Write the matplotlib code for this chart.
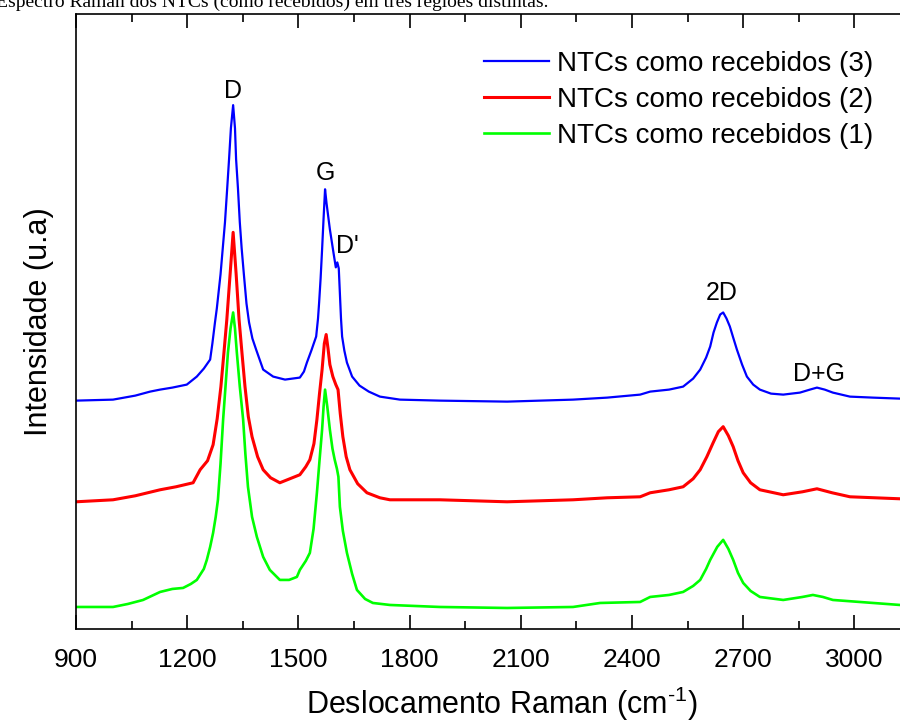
import matplotlib
matplotlib.use("Agg")
import matplotlib.pyplot as plt
from matplotlib.ticker import MultipleLocator

plt.rcParams['font.family'] = ['Liberation Sans', 'DejaVu Sans']
plt.rcParams['axes.unicode_minus'] = False
plt.rcParams['mathtext.fontset'] = 'custom'
plt.rcParams['mathtext.rm'] = 'Liberation Sans'

# Raman spectra of the as-received CNTs, three regions (offset stacked)
shift_3 = [900, 1000, 1060, 1100, 1127, 1160, 1199, 1226, 1245, 1262, 1268, 1275, 1280,
           1290, 1296, 1302, 1308, 1313, 1318, 1324, 1329, 1332, 1337, 1342, 1347, 1353,
           1360, 1367, 1376, 1386, 1405, 1432, 1464, 1504, 1515, 1523, 1535, 1548, 1553,
           1556, 1560, 1564, 1568, 1572, 1576, 1585, 1595, 1601, 1605, 1609, 1612, 1615,
           1618, 1624, 1631, 1645, 1665, 1690, 1720, 1774, 1882, 2063, 2241, 2333, 2422,
           2449, 2500, 2538, 2565, 2584, 2600, 2611, 2620, 2629, 2638, 2646, 2655, 2664,
           2673, 2683, 2697, 2710, 2727, 2745, 2775, 2808, 2853, 2880, 2899, 2920, 2942,
           2988, 3050, 3123]
inten_3 = [228, 229, 233, 237, 239, 241, 244, 252, 260, 269, 285, 306, 320,
           354, 380, 406, 440, 469, 500, 523, 500, 469, 440, 406, 380, 354,
           325, 306, 290, 279, 259, 252, 249, 251, 257, 266, 278, 292, 310,
           326, 350, 379, 410, 439, 425, 399, 375, 361, 366, 360, 335, 310,
           292, 278, 266, 252, 243, 237, 232, 229, 228, 227, 229, 231, 234,
           237, 239, 242, 250, 259, 271, 282, 296, 306, 314, 316, 310, 302,
           291, 279, 264, 252, 244, 239, 235, 234, 236, 239, 241, 239, 236,
           232, 231, 230]

shift_2 = [900, 1000, 1060, 1127, 1170, 1216, 1235, 1255, 1270, 1281, 1291, 1299, 1307,
           1316, 1324, 1332, 1340, 1348, 1356, 1365, 1375, 1390, 1405, 1425, 1450, 1477,
           1504, 1520, 1531, 1542, 1550, 1557, 1564, 1570, 1575, 1580, 1585, 1593, 1601,
           1607, 1613, 1620, 1629, 1639, 1660, 1685, 1720, 1747, 1882, 2063, 2241, 2333,
           2422, 2449, 2500, 2538, 2565, 2584, 2602, 2619, 2633, 2646, 2660, 2673, 2686,
           2700, 2720, 2745, 2808, 2860, 2899, 2940, 2988, 3123]
inten_2 = [127, 129, 133, 139, 142, 146, 159, 168, 184, 210, 242, 275, 309,
           355, 396, 355, 309, 275, 242, 212, 192, 172, 159, 151, 146, 150,
           154, 162, 169, 185, 209, 235, 259, 285, 294, 280, 264, 252, 244,
           239, 215, 192, 172, 159, 145, 136, 131, 129, 129, 127, 129, 131,
           132, 136, 139, 142, 150, 159, 172, 186, 197, 202, 193, 182, 168,
           156, 146, 139, 134, 137, 140, 136, 132, 130]

shift_1 = [900, 1000, 1040, 1081, 1127, 1160, 1189, 1210, 1226, 1245, 1253, 1262, 1270,
           1277, 1283, 1290, 1297, 1304, 1310, 1317, 1324, 1329, 1334, 1342, 1351, 1357,
           1364, 1375, 1388, 1405, 1423, 1450, 1475, 1496, 1504, 1520, 1531, 1541, 1550,
           1557, 1564, 1568, 1572, 1578, 1585, 1592, 1598, 1604, 1608, 1612, 1620, 1631,
           1645, 1658, 1680, 1701, 1747, 1882, 2063, 2241, 2314, 2422, 2449, 2500, 2538,
           2565, 2584, 2600, 2611, 2630, 2646, 2660, 2673, 2686, 2700, 2720, 2745, 2808,
           2860, 2888, 2915, 2942, 3123]
inten_1 = [22, 22, 25, 29, 37, 40, 41, 45, 49, 60, 69, 82, 96,
           112, 129, 165, 209, 245, 276, 300, 316, 300, 276, 242, 209, 175,
           142, 112, 92, 72, 59, 49, 49, 52, 59, 68, 76, 100, 136,
           168, 199, 222, 239, 222, 199, 180, 169, 160, 152, 122, 98, 76,
           55, 39, 30, 26, 24, 22, 21, 22, 26, 27, 32, 34, 37,
           43, 49, 60, 69, 82, 89, 80, 69, 56, 46, 38, 32, 29,
           32, 34, 32, 29, 24]

labels = ['NTCs como recebidos (3)', 'NTCs como recebidos (2)', 'NTCs como recebidos (1)']
colors = ['#0000ff', '#ff0000', '#00ff00']

# band names and where they sit
band_names = ['D', 'G', "D'", '2D', 'D+G']
band_x = [1324, 1572, 1633, 2643, 2904]
band_y = [537, 455, 382, 335, 255]

fig = plt.figure(figsize=(9, 7.24), dpi=100)
ax = fig.add_axes([0.0844, 0.1312, 0.9473, 0.8495])

ax.plot(shift_3, inten_3, color=colors[0], lw=1.6, label=labels[0])
ax.plot(shift_2, inten_2, color=colors[1], lw=2.2, label=labels[1])
ax.plot(shift_1, inten_1, color=colors[2], lw=1.9, label=labels[2])

for name, bx, by in zip(band_names, band_x, band_y):
    ax.text(bx, by, name, ha='center', va='center', fontsize=18)

ax.set_xlim(900, 3200)
ax.set_ylim(0, 614)
ax.xaxis.set_major_locator(MultipleLocator(300))
ax.xaxis.set_minor_locator(MultipleLocator(150))
ax.tick_params(axis='x', which='both', direction='in', top=True, labelsize=19, pad=14)
ax.tick_params(axis='x', which='major', length=10, width=1.2)
ax.tick_params(axis='x', which='minor', length=6, width=1.2)
ax.tick_params(axis='y', left=False, labelleft=False)
for s in ax.spines.values():
    s.set_linewidth(1.2)

ax.set_xlabel(r'Deslocamento Raman (cm$^{\text{-1}}$)', fontsize=22, labelpad=9)
ax.set_ylabel('Intensidade (u.a)', fontsize=22, labelpad=16)

ax.legend(loc='upper right', bbox_to_anchor=(0.983, 0.945), bbox_transform=fig.transFigure,
          frameon=False, fontsize=20, handlelength=2.35, handletextpad=0.3,
          labelspacing=0.36, borderaxespad=0)

# caption line from the page above the chart
fig.text(-0.004, 0.990, 'Espectro Raman dos NTCs (como recebidos) em três regiões distintas.',
         family='Liberation Serif', fontsize=14, ha='left', va='baseline')

fig.savefig('out.png', dpi=100)
